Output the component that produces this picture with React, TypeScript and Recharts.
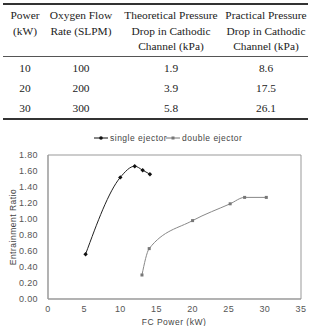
import { CartesianGrid, Line, LineChart, XAxis, YAxis } from "recharts";

const TABLE_HEAD = [
  ["Power", "(kW)"],
  ["Oxygen Flow", "Rate (SLPM)"],
  ["Theoretical Pressure", "Drop in Cathodic", "Channel (kPa)"],
  ["Practical Pressure", "Drop in Cathodic", "Channel (kPa)"],
];
const POWER = ["10", "20", "30"];
const OXYGEN = ["100", "200", "300"];
const THEORETICAL = ["1.9", "3.9", "5.8"];
const PRACTICAL = ["8.6", "17.5", "26.1"];
const COL_X = [25, 81, 171, 266];

const SINGLE_POWER = [5.2, 10, 12, 13.1, 14.1];
const SINGLE_RATIO = [0.56, 1.52, 1.66, 1.61, 1.56];
const DOUBLE_POWER = [13, 14, 20, 25.2, 27.2, 30.2];
const DOUBLE_RATIO = [0.3, 0.63, 0.98, 1.19, 1.27, 1.27];
const X_TICKS = [0, 5, 10, 15, 20, 25, 30, 35];
const Y_TICKS = [0, 0.2, 0.4, 0.6, 0.8, 1.0, 1.2, 1.4, 1.6, 1.8];

const single = SINGLE_POWER.map((p, i) => ({ power: p, ratio: SINGLE_RATIO[i] }));
const double = DOUBLE_POWER.map((p, i) => ({ power: p, ratio: DOUBLE_RATIO[i] }));

const SERIF = "'Liberation Serif', 'Times New Roman', serif";
const SANS = "'Liberation Sans', Arial, sans-serif";
const TICK = { fontSize: 9, fill: "#555", fontFamily: SANS, letterSpacing: 0.4 } as const;
const BOX = "#999";

function Table() {
  const rows = [POWER, OXYGEN, THEORETICAL, PRACTICAL];
  return (
    <div style={{ position: "absolute", left: 0, top: 0, width: 311, height: 126, fontFamily: SERIF, fontSize: 11.4, color: "#222" }}>
      <div style={{ position: "absolute", left: 3, right: 3, top: 3, height: 2, background: "#333" }} />
      {TABLE_HEAD.map((lines, c) =>
        lines.map((t, r) => (
          <div key={c + "-" + r} style={{ position: "absolute", left: COL_X[c] - 60, width: 120, top: 8 + r * 15.5, textAlign: "center", lineHeight: "15.5px", whiteSpace: "nowrap" }}>
            {t}
          </div>
        ))
      )}
      <div style={{ position: "absolute", left: 3, right: 3, top: 56, height: 1, background: "#555" }} />
      {rows.map((col, c) =>
        col.map((t, r) => (
          <div key={"v" + c + r} style={{ position: "absolute", left: COL_X[c] - 40, width: 80, top: 60 + r * 20, textAlign: "center", lineHeight: "16px" }}>
            {t}
          </div>
        ))
      )}
      <div style={{ position: "absolute", left: 3, right: 3, top: 118, height: 2, background: "#333" }} />
    </div>
  );
}

const SquareDot = (props: any) => {
  const { cx, cy, index } = props;
  return <rect key={"sq" + index} x={cx - 1.5} y={cy - 1.5} width={3} height={3} fill="#777" />;
};

const DiamondDot = (props: any) => {
  const { cx, cy, index } = props;
  return <path key={"dm" + index} d={`M${cx},${cy - 2.2}L${cx + 2.2},${cy}L${cx},${cy + 2.2}L${cx - 2.2},${cy}Z`} fill="#111" />;
};

function LegendItem({ x, label, color, square }: { x: number; label: string; color: string; square: boolean }) {
  return (
    <div style={{ position: "absolute", left: x, top: 133, height: 10, display: "flex", alignItems: "center", fontFamily: SANS, fontSize: 8.5, color: "#444", letterSpacing: 0.5, whiteSpace: "nowrap" }}>
      <svg width={14} height={6}>
        <line x1={0} y1={3} x2={14} y2={3} stroke={color} strokeWidth={1} />
        {square ? <rect x={5.5} y={1.5} width={3} height={3} fill={color} /> : <circle cx={7} cy={3} r={1.8} fill={color} />}
      </svg>
      <span style={{ marginLeft: 2 }}>{label}</span>
    </div>
  );
}

// grid lines only at the plot edges, so the grid forms the frame box
const edgeRows = (p: any) => [p.offset.top, p.offset.top + p.offset.height];
const edgeCols = (p: any) => [p.offset.left, p.offset.left + p.offset.width];

export default function App() {
  return (
    <div style={{ position: "absolute", left: 0, top: 0, width: 311, height: 326, background: "#fff" }}>
      <Table />
      <LegendItem x={94} label="single ejector" color="#111" square={false} />
      <LegendItem x={166} label="double ejector" color="#777" square />
      <div style={{ position: "absolute", left: 0, top: 130 }}>
        <LineChart width={311} height={196} margin={{ top: 25, right: 10, bottom: 0, left: 0 }}>
          <CartesianGrid
            stroke={BOX}
            strokeWidth={1}
            horizontalCoordinatesGenerator={edgeRows}
            verticalCoordinatesGenerator={edgeCols}
          />
          <XAxis
            type="number"
            dataKey="power"
            domain={[0, 35]}
            ticks={X_TICKS}
            interval={0}
            tick={TICK}
            stroke={BOX}
            tickLine={false}
            height={27}
            tickMargin={1}
          />
          <YAxis
            type="number"
            domain={[0, 1.8]}
            ticks={Y_TICKS}
            interval={0}
            tick={TICK}
            tickFormatter={(v: number) => v.toFixed(2)}
            stroke={BOX}
            tickLine={false}
            width={48}
            tickMargin={4}
          />
          <Line data={single} dataKey="ratio" type="monotone" stroke="#222" strokeWidth={1} dot={DiamondDot} isAnimationActive={false} />
          <Line data={double} dataKey="ratio" type="monotone" stroke="#888" strokeWidth={1} dot={SquareDot} isAnimationActive={false} />
        </LineChart>
      </div>
      <div style={{ position: "absolute", left: 124, width: 100, top: 316, textAlign: "center", fontFamily: SANS, fontSize: 8.5, color: "#444", letterSpacing: 0.5, lineHeight: "12px" }}>
        FC Power (kW)
      </div>
      <div style={{ position: "absolute", left: 13, top: 227, width: 0, height: 0 }}>
        <div style={{ position: "absolute", left: -50, top: -6, width: 100, textAlign: "center", transform: "rotate(-90deg)", fontFamily: SANS, fontSize: 8.5, color: "#444", letterSpacing: 0.5, lineHeight: "12px", whiteSpace: "nowrap" }}>
          Entrainment Ratio
        </div>
      </div>
    </div>
  );
}
